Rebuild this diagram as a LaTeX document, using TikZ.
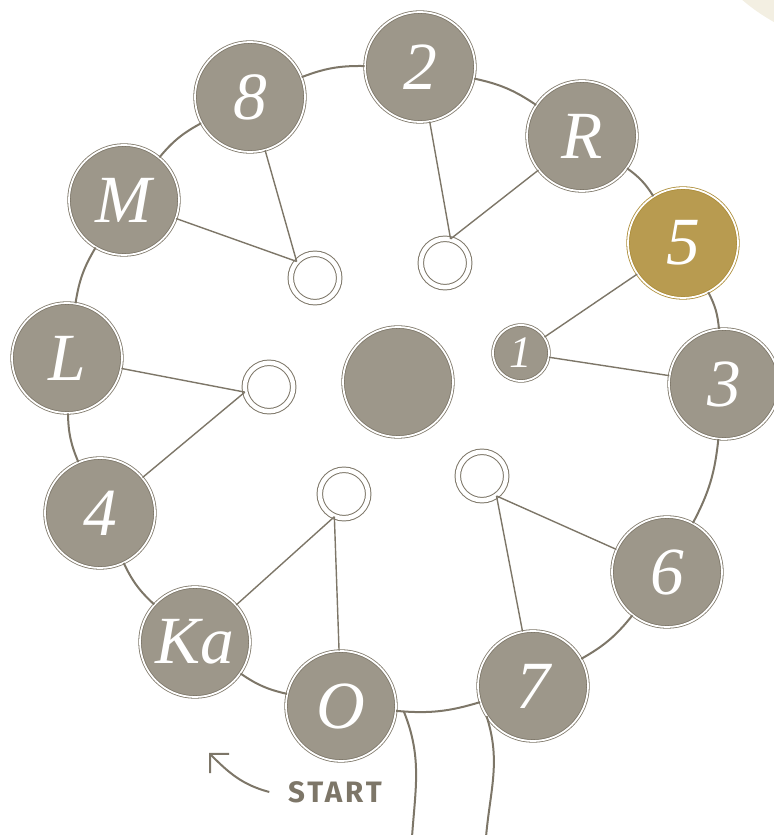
\documentclass[tikz,border=0pt]{standalone}
\usepackage{fontspec}
\setmainfont{Liberation Serif}
\newfontfamily\labelfont[LetterSpace=10]{Fira Sans}
\usetikzlibrary{arrows.meta}

\definecolor{stonegray}{RGB}{157,151,138}
\definecolor{inkgray}{RGB}{125,118,104}
\definecolor{ochre}{RGB}{184,155,80}
\definecolor{ochreline}{RGB}{172,140,55}
\definecolor{paper}{RGB}{243,239,226}

\begin{document}
\begin{tikzpicture}[x=0.25mm,y=0.25mm,
    letter/.style={circle,fill=stonegray,draw=inkgray,double=white,double distance=0.45mm,
      line width=0.2mm,minimum size=27.5mm,inner sep=0pt,text=white,
      font=\itshape\fontsize{48}{48}\selectfont},
    gold/.style={letter,fill=ochre,draw=ochreline},
    small/.style={letter,minimum size=14mm,font=\itshape\fontsize{32}{32}\selectfont},
    hole/.style={circle,draw=inkgray,double=white,double distance=1.125mm,line width=0.25mm,
      minimum size=12.1mm,inner sep=0pt},
    rim/.style={inkgray,line width=0.5mm,bend left=11},
    spoke/.style={inkgray,line width=0.35mm},
    thread/.style={inkgray,line width=0.5mm},
  ]
    \useasboundingbox (0,0) rectangle (774,835);
    \fill[paper] (870,985) circle[radius=197];

    % letters on the wheel
    \node[letter] (n8) at (250,738) {8};
    \node[letter] (n2) at (420,768) {2};
    \node[letter] (nR) at (582,699) {R};
    \node[gold]   (n5) at (683,592) {5};
    \node[letter] (n3) at (724,451) {3};
    \node[letter] (n6) at (667,263) {6};
    \node[letter] (n7) at (533,149) {7};
    \node[letter] (nO) at (341,129) {O};
    \node[letter] (nKa) at (195,193) {Ka};
    \node[letter] (n4) at (100,322) {4};
    \node[letter] (nL) at (67,477) {L};
    \node[letter] (nM) at (124,635) {M};

    % inside
    \node[letter] (hub) at (398,453) {};
    \node[small] (n1) at (521,482) {1};
    \node[hole] (ra) at (315,557) {};
    \node[hole] (rb) at (445,572) {};
    \node[hole] (rc) at (269,448) {};
    \node[hole] (rd) at (344,341) {};
    \node[hole] (re) at (482,359) {};

    % rim
    \draw[rim] (n8) to (n2);
    \draw[rim] (n2) to (nR);
    \draw[rim] (nR) to (n5);
    \draw[rim] (n5) to (n3);
    \draw[rim] (n3) to (n6);
    \draw[rim] (n6) to (n7);
    \draw[rim] (n7) to coordinate[pos=0.92] (knot) (nO);
    \draw[rim] (nO) to (nKa);
    \draw[rim] (nKa) to (n4);
    \draw[rim] (n4) to (nL);
    \draw[rim] (nL) to (nM);
    \draw[rim] (nM) to (n8);

    % spokes
    \draw[spoke] (n8) -- (ra.138);
    \draw[spoke] (nM) -- (ra.138);
    \draw[spoke] (n2) -- (rb.77);
    \draw[spoke] (nR) -- (rb.77);
    \draw[spoke] (n5) -- (n1);
    \draw[spoke] (n1) -- (n3);
    \draw[spoke] (nL) -- (rc.192);
    \draw[spoke] (n4) -- (rc.192);
    \draw[spoke] (nKa) -- (rd.-113);
    \draw[spoke] (nO) -- (rd.-113);
    \draw[spoke] (n6) -- (re.-54);
    \draw[spoke] (n7) -- (re.-54);

    % threads
    \coordinate (endA) at (412,-2);
    \coordinate (endB) at (486,-2);
    \draw[thread] (knot) to[out=-68,in=86] (endA);
    \draw[thread] (n7.213) to[out=-72,in=85] (endB);

    % start
    \node[text=inkgray,font=\labelfont\bfseries\fontsize{21}{21}\selectfont] (start) at (335,43) {START};
    \coordinate (tip) at (209,82);
    \draw[thread,-{Straight Barb[length=3.4mm,width=6.8mm]}] ([xshift=-3.5mm]start.west) to[out=165,in=-45] (tip);
\end{tikzpicture}
\end{document}
